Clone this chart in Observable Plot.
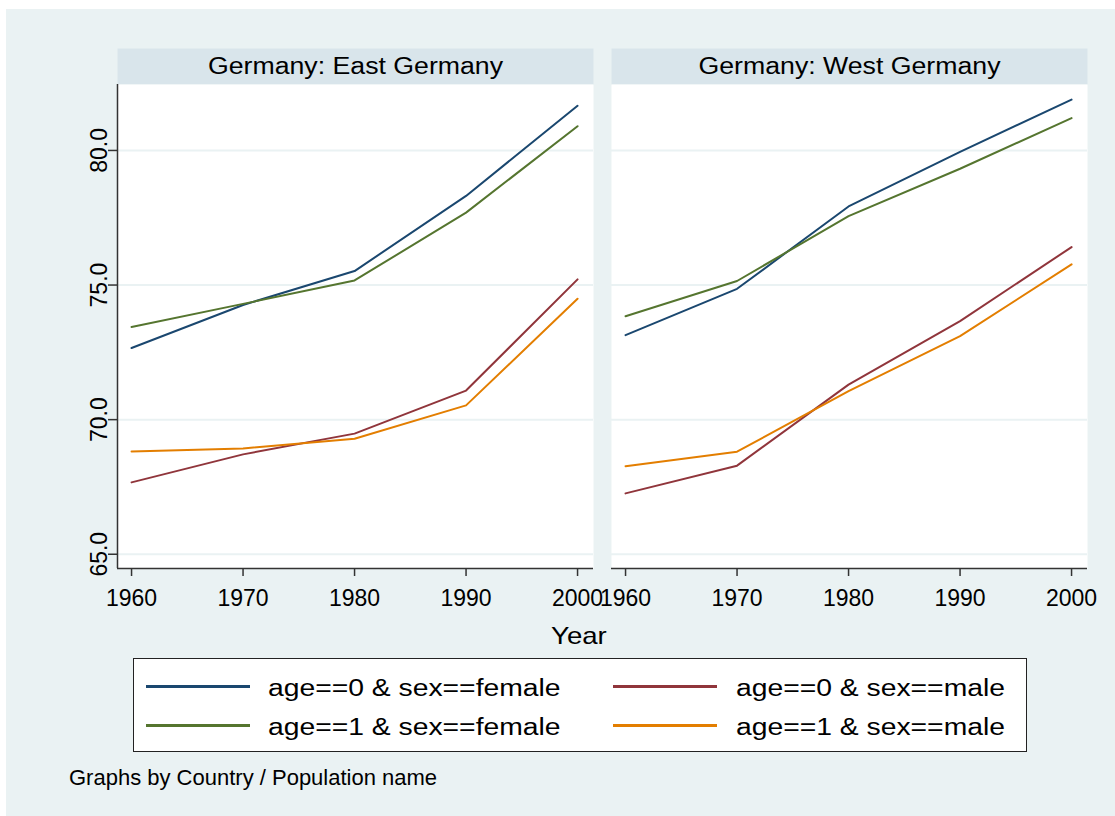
<!DOCTYPE html>
<html><head><meta charset="utf-8">
<script src="https://cdn.jsdelivr.net/npm/d3@7"></script>
<script src="https://cdn.jsdelivr.net/npm/@observablehq/plot@0.6"></script>
<style>
html,body{margin:0;padding:0;background:#fff;}
#page{position:relative;width:1115px;height:816px;overflow:hidden;font-family:"Liberation Sans",Arial,sans-serif;color:#000;}
#bg{position:absolute;left:6px;top:9px;right:0;bottom:0;background:#eaf2f3;}
#chart{position:absolute;left:0;top:0;}
.t{position:absolute;white-space:nowrap;display:inline-block;transform-origin:0 0;line-height:1;}
.box{position:absolute;box-sizing:border-box;background:#fff;border:1.5px solid #222;}
.sw{position:absolute;height:3px;}
</style></head><body>
<div id="page"><div id="bg"></div><div id="chart"></div></div>
<script>
// ---- data ----
const years = [1960, 1970, 1980, 1990, 2000];
const regions = ["Germany: East Germany", "Germany: West Germany"];
const series = ["age==0 & sex==female", "age==0 & sex==male", "age==1 & sex==female", "age==1 & sex==male"];
const colors = ["#1a476f", "#90353b", "#55752f", "#e37e00"];
const yTicks = [65, 70, 75, 80];
const xTicks = [1960, 1970, 1980, 1990, 2000];

const eastFemale0 = [72.66, 74.26, 75.52, 78.31, 81.66];
const eastMale0   = [67.67, 68.71, 69.48, 71.08, 75.21];
const eastFemale1 = [73.44, 74.30, 75.17, 77.69, 80.90];
const eastMale1   = [68.82, 68.93, 69.29, 70.53, 74.49];
const westFemale0 = [73.14, 74.86, 77.92, 79.95, 81.89];
const westMale0   = [67.26, 68.29, 71.30, 73.66, 76.41];
const westFemale1 = [73.84, 75.15, 77.56, 79.32, 81.20];
const westMale1   = [68.27, 68.81, 71.06, 73.10, 75.77];

const xTitle = "Year";
const caption = "Graphs by Country / Population name";

const valuesByRegion = [
  [eastFemale0, eastMale0, eastFemale1, eastMale1],
  [westFemale0, westMale0, westFemale1, westMale1]
];
const table = [];
regions.forEach((r, ri) => series.forEach((s, si) => years.forEach((y, yi) =>
  table.push({region: r, series: s, year: y, value: valuesByRegion[ri][si][yi]}))));

// ---- layout ----
const W = 1115, H = 616;
const mTop = 84, mBottom = H - 568, mLeft = 117, mRight = 28;
const xDomain = [1958.74, 2001.43];
const yDomain = [64.47, 82.45];
const innerH = H - mTop - mBottom;
const headerH = 36;
const font = "Liberation Sans, Arial, sans-serif";

const plot = Plot.plot({
  width: W, height: H,
  marginTop: mTop, marginBottom: mBottom, marginLeft: mLeft, marginRight: mRight,
  style: {background: "none", fontFamily: font, color: "#000", overflow: "visible"},
  x: {domain: xDomain},
  y: {domain: yDomain},
  fx: {domain: regions, axis: null, paddingInner: 18 / 494, paddingOuter: 0, round: false},
  color: {domain: series, range: colors},
  marks: [
    Plot.frame({fill: "#d9e5eb", stroke: null, insetTop: -headerH, insetBottom: innerH}),
    Plot.frame({fill: "white", stroke: null}),
    Plot.ruleY(yTicks, {stroke: "#eaf2f3", strokeWidth: 2}),
    Plot.text(regions, {fx: d => d, text: d => d, frameAnchor: "top", dy: -18, fontSize: 23, lineAnchor: "middle", fill: "#000"}),
    Plot.axisY({ticks: yTicks, tickSize: 9, tickPadding: 2, tickRotate: -90, tickFormat: d3.format(".1f"), fontSize: 23, label: null, stroke: "#333", strokeWidth: 1.5}),
    Plot.axisX({ticks: xTicks, tickSize: 8, tickPadding: 13, tickFormat: "d", fontSize: 23, label: null, stroke: "#333", strokeWidth: 1.5}),
    Plot.ruleY([yDomain[0]], {stroke: "#333", strokeWidth: 1.5}),
    Plot.ruleX([xDomain[0]], {fx: () => regions[0], stroke: "#333", strokeWidth: 1.5}),
    Plot.line(table, {x: "year", y: "value", z: "series", stroke: "series", fx: "region", strokeWidth: 2})
  ]
});
document.getElementById("chart").append(plot);

// stretch facet header text horizontally as in the original
plot.querySelectorAll("text").forEach(el => {
  if (regions.includes(el.textContent)) {
    const w = el.getComputedTextLength();
    el.setAttribute("textLength", (w * 1.16).toFixed(1));
    el.setAttribute("lengthAdjust", "spacingAndGlyphs");
  }
});

// ---- HTML text, legend, caption ----
const page = document.getElementById("page");
function addText(str, left, baseline, size, stretch) {
  const el = document.createElement("span");
  el.className = "t";
  el.textContent = str;
  el.style.fontSize = size + "px";
  el.style.left = left + "px";
  el.style.top = (baseline - size * 0.8465) + "px";
  el.style.transform = `scaleX(${stretch})`;
  page.append(el);
  return el;
}
addText(xTitle, 550.7, 644, 24, 1.15);

const box = document.createElement("div");
box.className = "box";
Object.assign(box.style, {left: "133px", top: "658px", width: "894px", height: "94px"});
page.append(box);

const swX = [146, 613], txtX = [268, 736], rowY = [686.3, 725.7], rowBase = [696, 735.3];
series.forEach((s, i) => {
  const row = Math.floor(i / 2), col = i % 2;
  const sw = document.createElement("div");
  sw.className = "sw";
  Object.assign(sw.style, {left: swX[col] + "px", top: (rowY[row] - 1.5) + "px", width: "104px", background: colors[i]});
  page.append(sw);
  addText(s, txtX[col], rowBase[row], 23, 1.23);
});

addText(caption, 69, 785.5, 22, 1);
</script>
</body></html>
